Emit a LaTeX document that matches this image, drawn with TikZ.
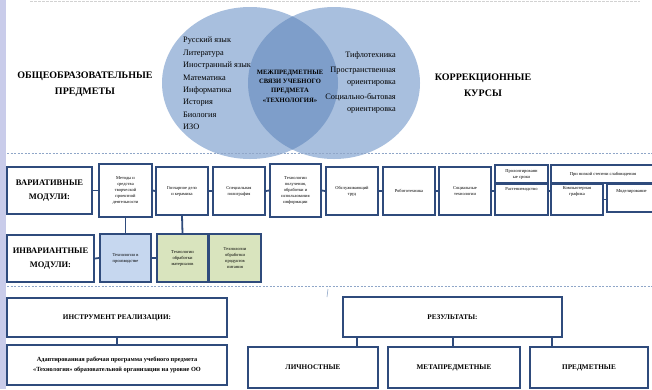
\documentclass[tikz,border=0pt]{standalone}
\usepackage{fontspec}
\setmainfont{Liberation Serif}
\definecolor{circA}{HTML}{A8BFDE}
\definecolor{circB}{HTML}{7E9ECA}
\definecolor{bord}{HTML}{2F4B7C}
\definecolor{stripc}{HTML}{C9CCEA}
\definecolor{dashc}{HTML}{8FA6C8}
\definecolor{blfill}{HTML}{C6D7EF}
\definecolor{grfill}{HTML}{D9E4BE}
\tikzset{
  box/.style={draw=bord, line width=1.9pt, fill=white, align=center, inner sep=1pt},
  tiny/.style={font=\fontsize{4.5}{6}\selectfont, align=center, inner sep=0pt},
  head/.style={font=\bfseries\fontsize{8.5}{14}\selectfont},
  headb/.style={font=\bfseries\fontsize{7.2}{11}\selectfont},
  conn/.style={draw=bord, line width=1.8pt},
  sep/.style={draw=dashc, line width=0.7pt, dash pattern=on 2pt off 1.5pt},
  big/.style={font=\bfseries\fontsize{10}{16}\selectfont, align=center, inner sep=0pt},
  lst/.style={font=\fontsize{8.3}{12.4}\selectfont, inner sep=0pt}
}
\begin{document}
\begin{tikzpicture}[x=1pt,y=-1pt]
\useasboundingbox (0,0) rectangle (652,389);
\fill[white] (0,0) rectangle (652,389);
\fill[stripc] (0,0) rectangle (6,389);
\draw[gray!35, line width=0.6pt, dash pattern=on 3pt off 1pt] (30,1) -- (640,1);
% Venn
\fill[circA] (250,83) ellipse [x radius=88, y radius=76];
\fill[circA] (334,83) ellipse [x radius=86, y radius=76];
\begin{scope}
  \clip (250,83) ellipse [x radius=88, y radius=76];
  \fill[circB] (334,83) ellipse [x radius=86, y radius=76];
\end{scope}
\node[big] (gen) at (85,84) {ОБЩЕОБРАЗОВАТЕЛЬНЫЕ\\ПРЕДМЕТЫ};
\node[big] (corr) at (483,85) {КОРРЕКЦИОННЫЕ\\КУРСЫ};
\node[lst, align=left, anchor=north west] (subj) at (183,37) {Русский язык\\Литература\\Иностранный язык\\Математика\\Информатика\\История\\Биология\\ИЗО};
\node[font=\bfseries\fontsize{6.6}{9.4}\selectfont, align=center, inner sep=0pt] (inter) at (290,86) {МЕЖПРЕДМЕТНЫЕ\\СВЯЗИ УЧЕБНОГО\\ПРЕДМЕТА\\«ТЕХНОЛОГИЯ»};
\node[lst, align=right, anchor=north east] (tifl) at (396,52) {Тифлотехника\\[2pt]Пространственная\\ориентировка\\[2pt]Социально-бытовая\\ориентировка};
% separators
\draw[sep] (7,153) -- (652,153);
\draw[sep] (7,286) -- (652,286);
\draw[dashc, line width=0.6pt] (328,289) -- (327,297);
% variant row
\node[box, head, minimum width=85pt, minimum height=47pt] (var) at (49.5,190.5) {ВАРИАТИВНЫЕ\\МОДУЛИ:};
\node[box, tiny, minimum width=53pt, minimum height=53pt] (m1) at (125.5,190.5) {Методы и\\средства\\творческой\\проектной\\деятельности};
\node[box, tiny, minimum width=52pt, minimum height=48pt] (m2) at (182,191) {Гончарное дело\\и керамика};
\node[box, tiny, minimum width=52pt, minimum height=48pt] (m3) at (239,191) {Специальная\\полиграфия};
\node[box, tiny, minimum width=51pt, minimum height=53pt] (m4) at (295.5,190.5) {Технологии\\получения,\\обработки и\\использования\\информации};
\node[box, tiny, minimum width=52pt, minimum height=48pt] (m5) at (352,191) {Обслуживающий\\труд};
\node[box, tiny, minimum width=52pt, minimum height=48pt] (m6) at (409,191) {Робототехника};
\node[box, tiny, minimum width=52pt, minimum height=48pt] (m7) at (465,191) {Социальные\\технологии};
\node[box, tiny, minimum width=53pt, minimum height=18pt] (m8a) at (521.5,174) {Пролонгированн\\ые сроки};
\node[box, minimum width=53pt, minimum height=31pt] (m8b) at (521.5,199.5) {};
\node[tiny, anchor=north] (m8bt) at ([yshift=-4pt]m8b.north) {Растениеводство};
\node[box, tiny, minimum width=104pt, minimum height=18pt] (m9a) at (603,174) {При низкой степени слабовидения};
\node[box, minimum width=52pt, minimum height=31pt] (m9b) at (577,199.5) {};
\node[tiny, anchor=north] (m9bt) at ([yshift=-3pt]m9b.north) {Компьютерная\\графика};
\node[box, minimum width=49pt, minimum height=28pt] (m9c) at (631.5,198) {};
\node[tiny, anchor=north] (m9ct) at ([yshift=-6pt]m9c.north) {Моделирование};
\foreach \a/\b in {var/m1,m1/m2,m2/m3,m3/m4,m4/m5,m5/m6,m6/m7}
  \draw[conn] (\a.east) -- (\b.west);
\draw[conn] (m7.east) -- (m7.east -| m8b.west);
\draw[conn] (m8b.east |- m7.east) -- (m9b.west |- m7.east);
\draw[conn] (m9b.east) -- (m9b.east -| m9c.west);
% invariant row
\node[box, head, minimum width=87pt, minimum height=47pt] (inv) at (50.5,258.5) {ИНВАРИАНТНЫЕ\\МОДУЛИ:};
\node[box, tiny, fill=blfill, minimum width=51pt, minimum height=48pt] (i1) at (125.5,258) {Технологии в\\производстве};
\node[box, tiny, fill=grfill, minimum width=51pt, minimum height=48pt] (i2) at (182.5,258) {Технологии\\обработки\\материалов};
\node[box, tiny, fill=grfill, minimum width=52pt, minimum height=48pt] (i3) at (235,258) {Технологии\\обработки\\продуктов\\питания};
\draw[conn] (inv.east) -- (i1.west);
\draw[conn] (i1.east) -- (i2.west);
\draw[conn] (m1.south) -- (i1.north);
\draw[conn] (m2.south) -- (i2.north);
% bottom
\node[box, headb, minimum width=220pt, minimum height=39pt] (tool) at (117,317.5) {ИНСТРУМЕНТ РЕАЛИЗАЦИИ:};
\node[box, font=\bfseries\fontsize{6.3}{10}\selectfont, minimum width=220pt, minimum height=40pt] (prog) at (117,365) {Адаптированная рабочая программа учебного предмета\\«Технология» образовательной организации на уровне ОО};
\draw[conn] (tool.south) -- (prog.north);
\node[box, headb, minimum width=219pt, minimum height=40pt] (res) at (452.5,317) {РЕЗУЛЬТАТЫ:};
\node[box, headb, minimum width=130pt, minimum height=41pt] (r1) at (313,367.5) {ЛИЧНОСТНЫЕ};
\node[box, headb, minimum width=132pt, minimum height=41pt] (r2) at (454,367.5) {МЕТАПРЕДМЕТНЫЕ};
\node[box, headb, minimum width=118pt, minimum height=41pt] (r3) at (589,367.5) {ПРЕДМЕТНЫЕ};
\coordinate (c1) at (357,0);
\coordinate (c2) at (453,0);
\coordinate (c3) at (552,0);
\draw[conn] (res.south -| c1) -- (r1.north -| c1);
\draw[conn] (res.south -| c2) -- (r2.north -| c2);
\draw[conn] (res.south -| c3) -- (r3.north -| c3);
\end{tikzpicture}
\end{document}
